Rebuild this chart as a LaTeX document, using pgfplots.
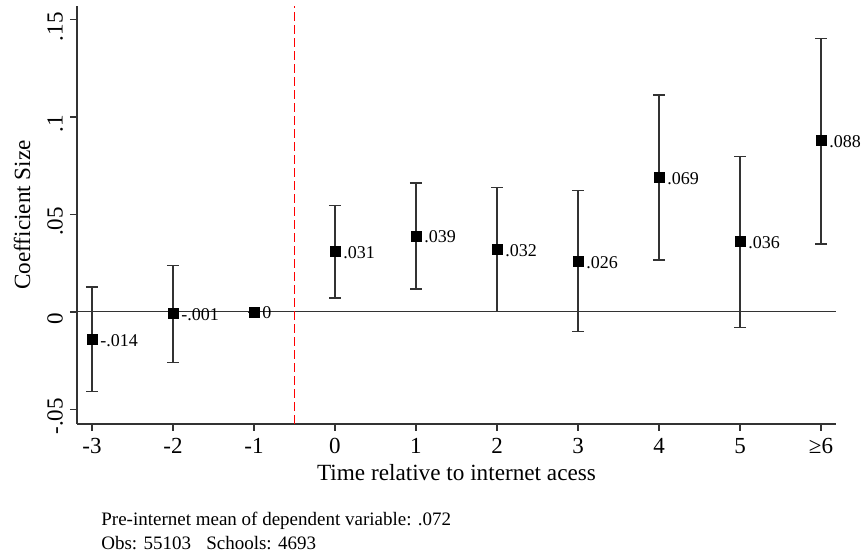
\documentclass[border=0pt]{standalone}
\usepackage{fontspec}
\setmainfont{Liberation Serif}
\usepackage{pgfplots}
\pgfplotsset{compat=1.18}
\usepackage{pgfplotstable}

% event-study coefficients with 95% CI (plus / minus distances)
\pgfplotstableread{
x  y      ep     em     lab
-3 -0.014 0.0268 0.0270 -.014
-2 -0.001 0.0247 0.0250 -.001
-1  0.000 0.0000 0.0000 0
 0  0.031 0.0235 0.0238 .031
 1  0.039 0.0271 0.0272 .039
 2  0.032 0.0319 0.0317 .032
 3  0.026 0.0362 0.0359 .026
 4  0.069 0.0423 0.0423 .069
 5  0.036 0.0438 0.0441 .036
 6  0.088 0.0524 0.0532 .088
}\coefs

\begin{document}
\begin{tikzpicture}
\path[use as bounding box] (-38.5pt,-66pt) rectangle (393pt,212pt);
\begin{axis}[
  at={(0,0)}, anchor=south west,
  scale only axis, width=379.5pt, height=209pt,
  xmin=-3.185, xmax=6.185, ymin=-0.0575, ymax=0.157,
  axis lines=left,
  axis line style={-, draw=black!80, line width=0.7pt},
  tick align=outside, major tick length=3.5pt,
  tick style={draw=black!80, line width=0.7pt},
  xtick={-3,...,6}, xticklabels={-3,-2,-1,0,1,2,3,4,5,≥6},
  ytick={-0.05,0,0.05,0.1,0.15}, yticklabels={-.05,0,.05,.1,.15},
  yticklabel style={rotate=90, anchor=south, xshift=-3.5pt},
  ticklabel style={font=\fontsize{11.5}{13}\selectfont},
  xlabel={Time relative to internet acess},
  ylabel={Coefficient Size},
  every axis x label/.style={at={(axis description cs:0.5,-0.117)}, anchor=center, font=\fontsize{11.6}{13}\selectfont},
  every axis y label/.style={at={(axis description cs:-0.0725,0.5)}, rotate=90, anchor=center, font=\fontsize{11.6}{13}\selectfont},
  clip=false,
]
\draw[black!80, line width=0.5pt] (axis cs:-3.185,0) -- (axis cs:6.185,0);
\draw[red, dash pattern=on 4.5pt off 2pt, line width=0.5pt] (axis cs:-0.5,-0.0575) -- (axis cs:-0.5,0.157);
\addplot[only marks, mark=square*, mark size=2.5pt, black,
  point meta=explicit symbolic,
  nodes near coords,
  every node near coord/.append style={anchor=west, inner sep=0pt, xshift=4pt, yshift=-0.5pt, font=\fontsize{9}{10}\selectfont, text=black},
  error bars/.cd, y dir=both, y explicit,
  error bar style={draw=black!80, line width=0.65pt},
  error mark options={draw=black!80, mark size=3pt, line width=0.65pt, rotate=90}]
  table[x=x, y=y, y error plus=ep, y error minus=em, meta=lab] {\coefs};
\node[anchor=west, inner sep=0pt, font=\fontsize{9.5}{11}\selectfont] at (axis description cs:0.0316,-0.232) {Pre-internet mean of dependent variable: .072};
\node[anchor=west, inner sep=0pt, font=\fontsize{9.5}{11}\selectfont] at (axis description cs:0.0316,-0.285) {Obs: 55103\hspace{0.8em}Schools: 4693};
\end{axis}
\end{tikzpicture}
\end{document}
